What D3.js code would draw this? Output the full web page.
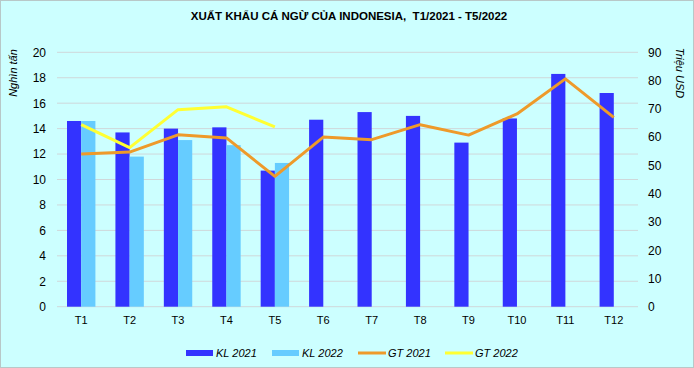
<!DOCTYPE html>
<html><head><meta charset="utf-8">
<script src="https://cdn.jsdelivr.net/npm/d3@7"></script>
<style>
html,body{margin:0;padding:0;background:#CCFFFF;}
svg{display:block;}
</style></head>
<body>
<svg id="c" width="694" height="368"></svg>
<script>
const categories = ["T1","T2","T3","T4","T5","T6","T7","T8","T9","T10","T11","T12"];
const kl2021 = [14.6,13.7,14.0,14.1,10.7,14.7,15.3,15.0,12.9,14.8,18.3,16.8];
const kl2022 = [14.6,11.8,13.1,12.7,11.3];
const gt2021 = [54.0,54.7,60.8,59.7,46.1,60.0,59.1,64.4,60.7,68.2,80.6,67.0];
const gt2022 = [64.4,56.3,69.7,70.7,63.6];
const leftTicks = [0,2,4,6,8,10,12,14,16,18,20];
const rightTicks = [0,10,20,30,40,50,60,70,80,90];

const svg = d3.select("#c");
const W=694,H=368;
const m = {l:57, r:56};
const x0 = m.l, x1 = W - m.r, yTop = 52.3, yBot = 306.7;
const font = "'Liberation Sans', Arial, sans-serif";

svg.append("rect").attr("x",0.5).attr("y",0.5).attr("width",W-1).attr("height",H-1)
  .attr("fill","#CCFFFF").attr("stroke","#B8C8C8");

const x = d3.scaleBand().domain(categories).range([x0,x1]).paddingInner(0).paddingOuter(0);
const yL = d3.scaleLinear().domain([0,20]).range([yBot,yTop]);
const yR = d3.scaleLinear().domain([0,90]).range([yBot,yTop]);
const bw = 14.2;

// gridlines
svg.append("g").selectAll("line").data(leftTicks).join("line")
  .attr("x1",x0).attr("x2",x1).attr("y1",d=>yL(d)).attr("y2",d=>yL(d))
  .attr("stroke","#CFD8DA").attr("stroke-width",1);

// bars
svg.append("g").selectAll("rect").data(kl2021).join("rect")
  .attr("x",(d,i)=>x(categories[i])+x.bandwidth()/2-bw)
  .attr("width",bw).attr("y",d=>yL(d)).attr("height",d=>yL(0)-yL(d))
  .attr("fill","#3333FF");
svg.append("g").selectAll("rect").data(kl2022).join("rect")
  .attr("x",(d,i)=>x(categories[i])+x.bandwidth()/2)
  .attr("width",bw).attr("y",d=>yL(d)).attr("height",d=>yL(0)-yL(d))
  .attr("fill","#66CCFF");

// lines
const line = d3.line().x((d,i)=>x(categories[i])+x.bandwidth()/2).y(d=>yR(d));
svg.append("path").datum(gt2021).attr("d",line).attr("fill","none")
  .attr("stroke","#EE9A2A").attr("stroke-width",3).attr("stroke-linejoin","round");
svg.append("path").datum(gt2022).attr("d",line).attr("fill","none")
  .attr("stroke","#FFFF33").attr("stroke-width",3).attr("stroke-linejoin","round");

// axes
const axL = svg.append("g").attr("transform",`translate(${x0-11},0)`)
  .call(d3.axisLeft(yL).tickValues(leftTicks).tickSize(0).tickPadding(0));
const axR = svg.append("g").attr("transform",`translate(${x1+10},0)`)
  .call(d3.axisRight(yR).tickValues(rightTicks).tickSize(0).tickPadding(0));
const axB = svg.append("g").attr("transform",`translate(0,${yBot+9})`)
  .call(d3.axisBottom(x).tickSize(0).tickPadding(0));
[axL,axR,axB].forEach(a=>{a.select(".domain").remove();
  a.selectAll("text").attr("font-family",font).attr("font-size",12).attr("fill","#000");});
axB.selectAll("text").attr("font-size",11).attr("dy","0.71em");

// title
svg.append("text").attr("x",349).attr("y",20).attr("text-anchor","middle")
  .attr("font-family","'Liberation Sans Narrow', 'Arial Narrow', "+font).attr("font-weight","bold")
  .attr("font-size",11.5).text("XUẤT KHẨU CÁ NGỪ CỦA INDONESIA,\u00A0 T1/2021 - T5/2022");

// axis titles
svg.append("text").attr("transform","translate(17,73) rotate(-90)").attr("text-anchor","middle")
  .attr("font-family",font).attr("font-style","italic").attr("font-size",11).text("Nghìn tấn");
svg.append("text").attr("transform","translate(676,73) rotate(90)").attr("text-anchor","middle")
  .attr("font-family",font).attr("font-style","italic").attr("font-size",11).text("Triệu USD");

// legend
const leg = [
  {t:"KL 2021",c:"#3333FF",type:"rect",x:186},
  {t:"KL 2022",c:"#66CCFF",type:"rect",x:272},
  {t:"GT 2021",c:"#EE9A2A",type:"line",x:358},
  {t:"GT 2022",c:"#FFFF33",type:"line",x:445}
];
const ly = 353;
const lg = svg.append("g");
leg.forEach(d=>{
  if(d.type==="rect") lg.append("rect").attr("x",d.x).attr("y",ly-3).attr("width",27).attr("height",6).attr("fill",d.c);
  else lg.append("line").attr("x1",d.x).attr("x2",d.x+28).attr("y1",ly).attr("y2",ly).attr("stroke",d.c).attr("stroke-width",3);
  lg.append("text").attr("x",d.x+30).attr("y",ly+4).attr("font-family",font).attr("font-style","italic")
    .attr("font-size",11).text(d.t);
});
</script>
</body></html>
